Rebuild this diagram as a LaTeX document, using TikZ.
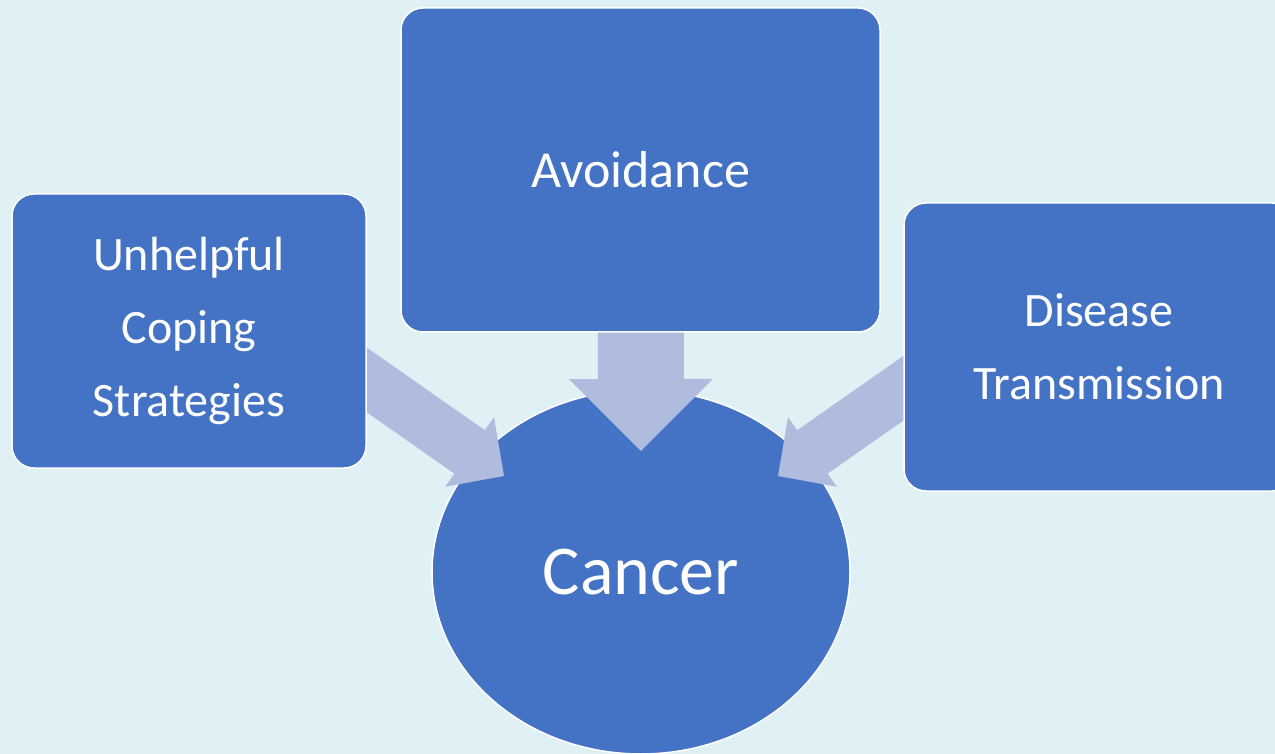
\documentclass[tikz,border=0pt]{standalone}
\usepackage{fontspec}
\setmainfont{Carlito}
\usetikzlibrary{shapes.geometric,arrows.meta,calc}

\definecolor{pagebg}{HTML}{E0F1F5}
\definecolor{boxblue}{HTML}{4472C4}
\definecolor{arrowtint}{HTML}{B0BCDE}

\pgfdeclarelayer{back}
\pgfdeclarelayer{hub}
\pgfdeclarelayer{flows}
\pgfsetlayers{back,hub,flows,main}

\begin{document}
\begin{tikzpicture}[
    x=0.5pt, y=-0.5pt,
    box/.style={rectangle, rounded corners=11pt, draw=white, line width=0.75pt, fill=boxblue,
                text=white, align=center, inner sep=0pt, font=\fontsize{24}{36.5}\selectfont},
    core/.style={ellipse, draw=white, line width=0.75pt, fill=boxblue, text=white,
                 inner sep=0pt, font=\fontsize{35}{42}\selectfont},
    flow/.style={draw=arrowtint, line width=26.5pt,
                 -{Triangle[length=21pt, width=42.5pt, line width=0pt]}},
    bigflow/.style={draw=arrowtint, line width=43pt,
                    -{Triangle[length=36pt, width=72pt, line width=0pt]}},
]

% ---- page ----
\useasboundingbox (0,0) rectangle (1275,754);
\begin{pgfonlayer}{back}
  \fill[pagebg] (0,0) rectangle (1275,754);
\end{pgfonlayer}

% ---- shapes ----
\node[box, minimum width=177pt, minimum height=137pt] (coping) at (189,331)
  {Unhelpful\\Coping\\Strategies};
\node[box, minimum width=239.5pt, minimum height=162pt,
      font=\fontsize{26}{31}\selectfont] (avoid) at (640.5,170) {Avoidance};
\node[box, minimum width=195pt, minimum height=144pt] (spread) at (1099,347)
  {Disease\\Transmission};
\begin{pgfonlayer}{hub}
  \node[core, minimum width=209pt, minimum height=182pt] (cancer) at (641,572) {Cancer\hspace{5pt}};
\end{pgfonlayer}

% ---- arrow ends ----
\coordinate (tipL) at ($(cancer.center)+(-137,-96)$);
\coordinate (tipR) at ($(cancer.center)+(137,-96)$);
\coordinate (tipD) at ($(cancer.center)+(0,-121)$);
\coordinate (tailL) at ($(tipL)+(-180,-126)$);
\coordinate (tailR) at ($(tipR)+(180,-126)$);

% ---- arrows (over the circle, under the boxes) ----
\begin{pgfonlayer}{flows}
  \draw[flow] (tailL) -- (tipL);
  \draw[flow] (tailR) -- (tipR);
  \draw[bigflow] (avoid.center) -- (tipD);
\end{pgfonlayer}

\end{tikzpicture}
\end{document}
